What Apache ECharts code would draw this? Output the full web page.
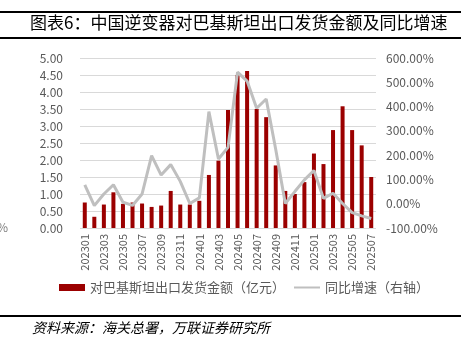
<!DOCTYPE html>
<html><head><meta charset="utf-8">
<script src="https://cdn.jsdelivr.net/npm/echarts@6/dist/echarts.min.js"></script>
<style>html,body{margin:0;padding:0;background:#fff}#c{width:461px;height:348px}</style>
</head><body><div id="c"></div>
<script>
const categories = ['202301','202302','202303','202304','202305','202306','202307','202308','202309','202310','202311','202312',
'202401','202402','202403','202404','202405','202406','202407','202408','202409','202410','202411','202412',
'202501','202502','202503','202504','202505','202506','202507'];
const exportValue = [0.75,0.33,0.69,1.05,0.71,0.75,0.72,0.62,0.66,1.09,0.69,0.69,
0.80,1.56,1.98,3.47,4.50,4.62,3.50,3.26,1.84,1.09,1.00,1.35,
2.19,1.88,2.88,3.58,2.88,2.43,1.50];
const yoyGrowth = [78,-8,40,78,6,-7,40,198,118,161,92,1,
24,379,184,232,542,505,393,431,223,1,50,98,
137,22,43,1,-37,-50,-61];
const leftTicks = [0,5,0.5];
const rightTicks = [-100,600,100];
const titleText = '图表6：中国逆变器对巴基斯坦出口发货金额及同比增速';
const sourceText = '资料来源：海关总署，万联证券研究所';
const barName = '对巴基斯坦出口发货金额（亿元）';
const lineName = '同比增速（右轴）';

const chart = echarts.init(document.getElementById('c'));
const F = '"Noto Sans CJK SC", sans-serif';
chart.setOption({
  animation:false,
  textStyle:{fontFamily:F},
  graphic:[
    {type:'rect',shape:{x:0,y:11,width:461,height:2},style:{fill:'#000'}},
    {type:'rect',shape:{x:0,y:37,width:461,height:2},style:{fill:'#000'}},
    {type:'text',left:30,top:14,style:{text:titleText,font:'17px '+F,fill:'#000'}},
    {type:'rect',shape:{x:0,y:315,width:461,height:2},style:{fill:'#000'}},
    {type:'text',left:32,top:321,style:{text:sourceText,font:'italic 14px '+F,fill:'#000'}},
    {type:'text',left:-3,top:221,style:{text:'%',font:'12px '+F,fill:'#808080'}}
  ],
  legend:{
    bottom:49,left:54,itemGap:8,itemWidth:26,itemHeight:7,
    textStyle:{color:'#595959',fontSize:13,fontFamily:F},
    data:[{name:barName,icon:'rect'},{name:lineName,itemStyle:{opacity:0}}]
  },
  grid:{left:80,right:85,top:58,bottom:120},
  xAxis:{type:'category',data:categories,
    axisTick:{show:false},axisLine:{show:false},
    axisLabel:{rotate:90,interval:1,color:'#595959',fontSize:11,margin:6}},
  yAxis:[
    {type:'value',min:leftTicks[0],max:leftTicks[1],interval:leftTicks[2],
     axisLabel:{formatter:v=>v.toFixed(2),color:'#595959',fontSize:12,margin:17},
     splitLine:{lineStyle:{color:'#d9d9d9'}},axisLine:{show:false},axisTick:{show:false}},
    {type:'value',min:rightTicks[0],max:rightTicks[1],interval:rightTicks[2],
     axisLabel:{formatter:v=>v.toFixed(2)+'%',color:'#595959',fontSize:12,margin:10},
     splitLine:{show:false},axisLine:{show:false},axisTick:{show:false}}
  ],
  series:[
    {name:barName,type:'bar',data:exportValue,barWidth:4,itemStyle:{color:'#9B0000'}},
    {name:lineName,type:'line',yAxisIndex:1,data:yoyGrowth,symbol:'none',
     lineStyle:{color:'#BFBFBF',width:3},itemStyle:{color:'#BFBFBF'}}
  ]
});
</script></body></html>
